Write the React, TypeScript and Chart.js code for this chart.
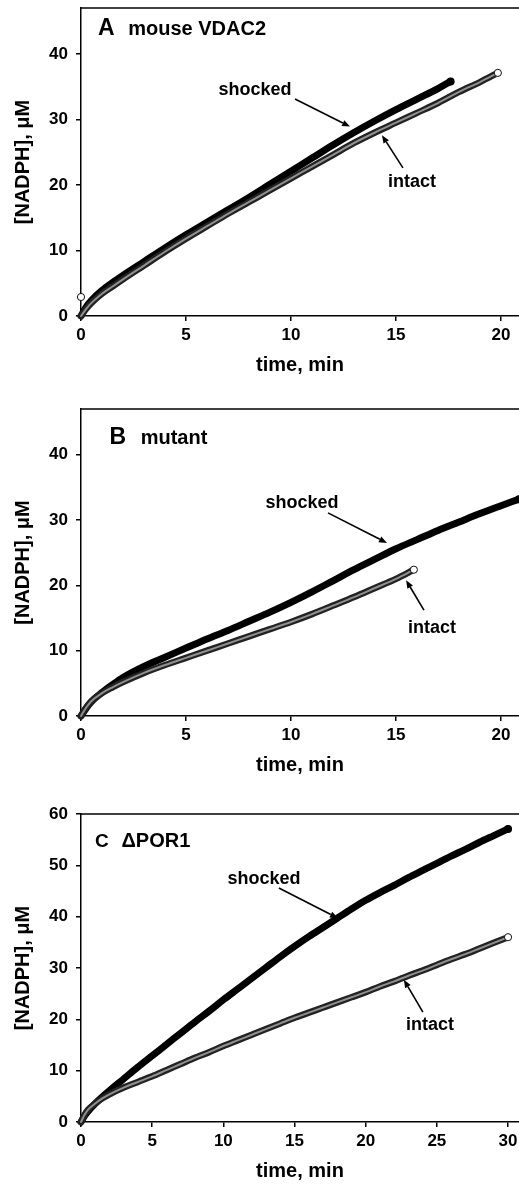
import React, { useEffect, useRef } from "react";
import { Chart, registerables } from "chart.js";

Chart.register(...registerables);

const FONT = "'Liberation Sans', Arial, Helvetica, sans-serif";

// ---- tick labels ----
const xTicksAB = [0, 5, 10, 15, 20];
const xTicksC = [0, 5, 10, 15, 20, 25, 30];
const yTicksAB = [0, 10, 20, 30, 40];
const yTicksC = [0, 10, 20, 30, 40, 50, 60];

// ---- Panel A: mouse VDAC2 ----
const timeA_shocked = [0, 0.25, 0.5, 1, 1.5, 2, 3, 4, 5, 6, 7, 8, 9, 10, 11, 12, 13, 14, 15, 16, 17, 17.6];
const nadphA_shocked = [0, 1.4, 2.4, 3.9, 5.1, 6.2, 8.3, 10.4, 12.4, 14.3, 16.2, 18.1, 20.1, 22.1, 24.1, 26.1, 28.0, 29.8, 31.5, 33.1, 34.7, 35.8];
const timeA_intact = [0, 0.25, 0.5, 1, 1.5, 2, 3, 4, 5, 6, 7, 8, 9, 10, 11, 12, 13, 14, 15, 16, 17, 18, 19, 19.85];
const nadphA_intact = [0, 1.1, 2.0, 3.4, 4.5, 5.6, 7.7, 9.8, 11.8, 13.7, 15.6, 17.4, 19.2, 21.0, 22.8, 24.6, 26.4, 28.0, 29.5, 31.0, 32.5, 34.2, 35.7, 37.1];
const timeA_intactFirst = [0];
const nadphA_intactFirst = [2.9];

// ---- Panel B: mutant ----
const timeB_shocked = [0, 0.25, 0.5, 1, 1.5, 2, 3, 4, 5, 6, 7, 8, 9, 10, 11, 12, 13, 14, 15, 16, 17, 18, 19, 20, 20.86];
const nadphB_shocked = [0, 1.2, 2.2, 3.6, 4.8, 5.9, 7.6, 9.0, 10.4, 11.8, 13.1, 14.5, 15.9, 17.4, 19.0, 20.7, 22.4, 24.0, 25.6, 27.0, 28.4, 29.7, 31.0, 32.2, 33.2];
const timeB_intact = [0, 0.25, 0.5, 1, 1.5, 2, 3, 4, 5, 6, 7, 8, 9, 10, 11, 12, 13, 14, 15, 15.85];
const nadphB_intact = [0, 1.3, 2.3, 3.5, 4.4, 5.2, 6.6, 7.8, 8.9, 10.0, 11.1, 12.2, 13.3, 14.4, 15.6, 16.9, 18.2, 19.6, 21.0, 22.4];

// ---- Panel C: ΔPOR1 ----
const timeC_shocked = [0, 0.25, 0.5, 1, 1.5, 2, 3, 4, 5, 6, 7, 8, 9, 10, 11, 12, 13, 14, 15, 16, 17, 18, 19, 20, 21, 22, 23, 24, 25, 26, 27, 28, 29, 30];
const nadphC_shocked = [0, 1.2, 2.1, 3.6, 4.9, 6.1, 8.4, 10.7, 12.9, 15.1, 17.3, 19.5, 21.6, 23.8, 25.9, 28.0, 30.1, 32.2, 34.2, 36.1, 37.9, 39.7, 41.5, 43.2, 44.7, 46.1, 47.6, 49.0, 50.4, 51.8, 53.1, 54.5, 55.8, 57.1];
const timeC_intact = [0, 0.25, 0.5, 1, 1.5, 2, 3, 4, 5, 6, 7, 8, 9, 10, 11, 12, 13, 14, 15, 16, 17, 18, 19, 20, 21, 22, 23, 24, 25, 26, 27, 28, 29, 30];
const nadphC_intact = [0, 1.4, 2.4, 3.6, 4.6, 5.4, 6.7, 7.8, 8.9, 10.1, 11.3, 12.5, 13.6, 14.8, 15.9, 17.0, 18.1, 19.2, 20.3, 21.3, 22.3, 23.3, 24.3, 25.3, 26.4, 27.4, 28.5, 29.5, 30.6, 31.7, 32.7, 33.8, 34.9, 36.0];

type Label = { text: string; x: number; y: number; size: number; align: CanvasTextAlign };
type Arrow = { x1: number; y1: number; x2: number; y2: number };

const pts = (t: number[], v: number[]) => t.map((x, i) => ({ x, y: v[i] }));
const lastPt = (t: number[], v: number[]) => [{ x: t[t.length - 1], y: v[v.length - 1] }];

function makeDecor(labels: Label[], arrows: Arrow[]) {
  return {
    id: "panelDecor",
    afterDraw(chart: any) {
      const { ctx, chartArea, scales } = chart;
      const xs = scales.x;
      const ys = scales.y;
      ctx.save();
      ctx.strokeStyle = "#000";
      ctx.lineWidth = 1.5;
      ctx.beginPath();
      ctx.moveTo(chartArea.left, chartArea.top);
      ctx.lineTo(chartArea.right, chartArea.top);
      ctx.stroke();
      ctx.fillStyle = "#000";
      ctx.textBaseline = "alphabetic";
      for (const l of labels) {
        ctx.font = `bold ${l.size}px ${FONT}`;
        ctx.textAlign = l.align;
        ctx.fillText(l.text, xs.getPixelForValue(l.x), ys.getPixelForValue(l.y));
      }
      for (const a of arrows) {
        const x1 = xs.getPixelForValue(a.x1);
        const y1 = ys.getPixelForValue(a.y1);
        const x2 = xs.getPixelForValue(a.x2);
        const y2 = ys.getPixelForValue(a.y2);
        const ang = Math.atan2(y2 - y1, x2 - x1);
        const hl = 8;
        const hw = 3.2;
        const bx = x2 - hl * Math.cos(ang);
        const by = y2 - hl * Math.sin(ang);
        ctx.lineWidth = 1.6;
        ctx.beginPath();
        ctx.moveTo(x1, y1);
        ctx.lineTo(bx, by);
        ctx.stroke();
        ctx.beginPath();
        ctx.moveTo(x2, y2);
        ctx.lineTo(bx + hw * Math.sin(ang), by - hw * Math.cos(ang));
        ctx.lineTo(bx - hw * Math.sin(ang), by + hw * Math.cos(ang));
        ctx.closePath();
        ctx.fill();
      }
      ctx.restore();
    },
  };
}

type Spec = {
  top: number;
  height: number;
  padTop: number;
  xMax: number;
  yMax: number;
  xTicks: number[];
  yTicks: number[];
  shockedT: number[];
  shockedV: number[];
  intactT: number[];
  intactV: number[];
  extraT?: number[];
  extraV?: number[];
  labels: Label[];
  arrows: Arrow[];
};

function buildConfig(s: Spec): any {
  const common = {
    showLine: true,
    fill: false,
    cubicInterpolationMode: "monotone",
    clip: false,
    borderCapStyle: "round",
    borderJoinStyle: "round",
    pointRadius: 0,
  };
  const openPoint = {
    showLine: false,
    clip: false,
    pointRadius: 3.6,
    pointBackgroundColor: "#ffffff",
    pointBorderColor: "#111",
    pointBorderWidth: 1,
  };
  const datasets: any[] = [
    { ...openPoint, data: lastPt(s.intactT, s.intactV) },
  ];
  if (s.extraT && s.extraV) datasets.push({ ...openPoint, data: pts(s.extraT, s.extraV) });
  datasets.push(
    { ...common, data: pts(s.intactT, s.intactV), borderColor: "#909090", borderWidth: 2 },
    { ...common, data: pts(s.intactT, s.intactV), borderColor: "#222222", borderWidth: 6.5 },
    {
      showLine: false,
      clip: false,
      data: lastPt(s.shockedT, s.shockedV),
      pointRadius: 4,
      pointBackgroundColor: "#000",
      pointBorderColor: "#000",
      pointBorderWidth: 0,
    },
    { ...common, data: pts(s.shockedT, s.shockedV), borderColor: "#000", borderWidth: 7 }
  );

  const tickFont = { family: FONT, size: 17, weight: "bold" };
  const titleFont = { family: FONT, size: 20, weight: "bold" };
  const grid = { drawOnChartArea: false, drawTicks: true, tickLength: 5, color: "#000", lineWidth: 1.5 };
  const border = { display: true, color: "#000", width: 1.5 };

  return {
    type: "line",
    data: { datasets },
    options: {
      responsive: false,
      maintainAspectRatio: false,
      animation: false,
      events: [],
      layout: { autoPadding: false, padding: { top: s.padTop, left: 0, right: 0, bottom: 0 } },
      plugins: { legend: { display: false }, tooltip: { enabled: false } },
      scales: {
        x: {
          type: "linear",
          min: 0,
          max: s.xMax,
          afterBuildTicks: (sc: any) => {
            sc.ticks = s.xTicks.map((v) => ({ value: v }));
          },
          afterFit: (sc: any) => {
            sc.height = 64;
            sc.paddingLeft = 0;
            sc.paddingRight = 0;
          },
          grid,
          border,
          ticks: { font: tickFont, color: "#000", padding: 4, maxRotation: 0, autoSkip: false },
          title: { display: true, text: "time, min", font: titleFont, color: "#000", padding: { top: 0, bottom: 3 } },
        },
        y: {
          type: "linear",
          min: 0,
          max: s.yMax,
          afterBuildTicks: (sc: any) => {
            sc.ticks = s.yTicks.map((v) => ({ value: v }));
          },
          afterFit: (sc: any) => {
            sc.width = 81;
            sc.paddingTop = 0;
            sc.paddingBottom = 0;
          },
          grid,
          border,
          ticks: { font: tickFont, color: "#000", padding: 8, autoSkip: false },
          title: { display: true, text: "[NADPH], μM", font: titleFont, color: "#000", padding: { top: 11, bottom: 0 } },
        },
      },
    },
    plugins: [makeDecor(s.labels, s.arrows)],
  };
}

const panelA: Spec = {
  top: 0,
  height: 380,
  padTop: 8,
  xMax: 20.857,
  yMax: 47,
  xTicks: xTicksAB,
  yTicks: yTicksAB,
  shockedT: timeA_shocked,
  shockedV: nadphA_shocked,
  intactT: timeA_intact,
  intactV: nadphA_intact,
  extraT: timeA_intactFirst,
  extraV: nadphA_intactFirst,
  labels: [
    { text: "A", x: 0.81, y: 42.9, size: 23, align: "left" },
    { text: "mouse VDAC2", x: 2.25, y: 42.9, size: 20, align: "left" },
    { text: "shocked", x: 8.29, y: 33.7, size: 18, align: "center" },
    { text: "intact", x: 15.76, y: 19.7, size: 18, align: "center" },
  ],
  arrows: [
    { x1: 10.19, y1: 33.1, x2: 12.81, y2: 28.9 },
    { x1: 15.33, y1: 22.6, x2: 14.33, y2: 27.6 },
  ],
};

const panelB: Spec = {
  top: 380,
  height: 400,
  padTop: 29,
  xMax: 20.857,
  yMax: 47,
  xTicks: xTicksAB,
  yTicks: yTicksAB,
  shockedT: timeB_shocked,
  shockedV: nadphB_shocked,
  intactT: timeB_intact,
  intactV: nadphB_intact,
  labels: [
    { text: "B", x: 1.36, y: 41.65, size: 23, align: "left" },
    { text: "mutant", x: 2.84, y: 41.65, size: 20, align: "left" },
    { text: "shocked", x: 10.52, y: 31.85, size: 18, align: "center" },
    { text: "intact", x: 16.71, y: 12.7, size: 18, align: "center" },
  ],
  arrows: [
    { x1: 11.76, y1: 31.1, x2: 14.57, y2: 26.5 },
    { x1: 16.33, y1: 16.2, x2: 15.48, y2: 20.8 },
  ],
};

const panelC: Spec = {
  top: 780,
  height: 406,
  padTop: 34,
  xMax: 30.77,
  yMax: 60,
  xTicks: xTicksC,
  yTicks: yTicksC,
  shockedT: timeC_shocked,
  shockedV: nadphC_shocked,
  intactT: timeC_intact,
  intactV: nadphC_intact,
  labels: [
    { text: "C", x: 0.98, y: 53.6, size: 19, align: "left" },
    { text: "ΔPOR1", x: 2.84, y: 53.6, size: 20, align: "left" },
    { text: "shocked", x: 12.85, y: 46.4, size: 18, align: "center" },
    { text: "intact", x: 24.51, y: 17.9, size: 18, align: "center" },
  ],
  arrows: [
    { x1: 13.9, y1: 45.6, x2: 18.05, y2: 39.7 },
    { x1: 24.02, y1: 21.4, x2: 22.68, y2: 27.7 },
  ],
};

function Panel({ spec }: { spec: Spec }) {
  const ref = useRef<HTMLCanvasElement | null>(null);
  useEffect(() => {
    if (!ref.current) return;
    const chart = new Chart(ref.current, buildConfig(spec));
    return () => chart.destroy();
  }, [spec]);
  return (
    <canvas
      ref={ref}
      width={519}
      height={spec.height}
      style={{ position: "absolute", left: 0, top: spec.top, width: 519, height: spec.height, display: "block" }}
    />
  );
}

export default function App() {
  return (
    <div
      style={{
        position: "absolute",
        left: 0,
        top: 0,
        width: 519,
        height: 1184,
        overflow: "hidden",
        background: "#fff",
      }}
    >
      <Panel spec={panelA} />
      <Panel spec={panelB} />
      <Panel spec={panelC} />
    </div>
  );
}
